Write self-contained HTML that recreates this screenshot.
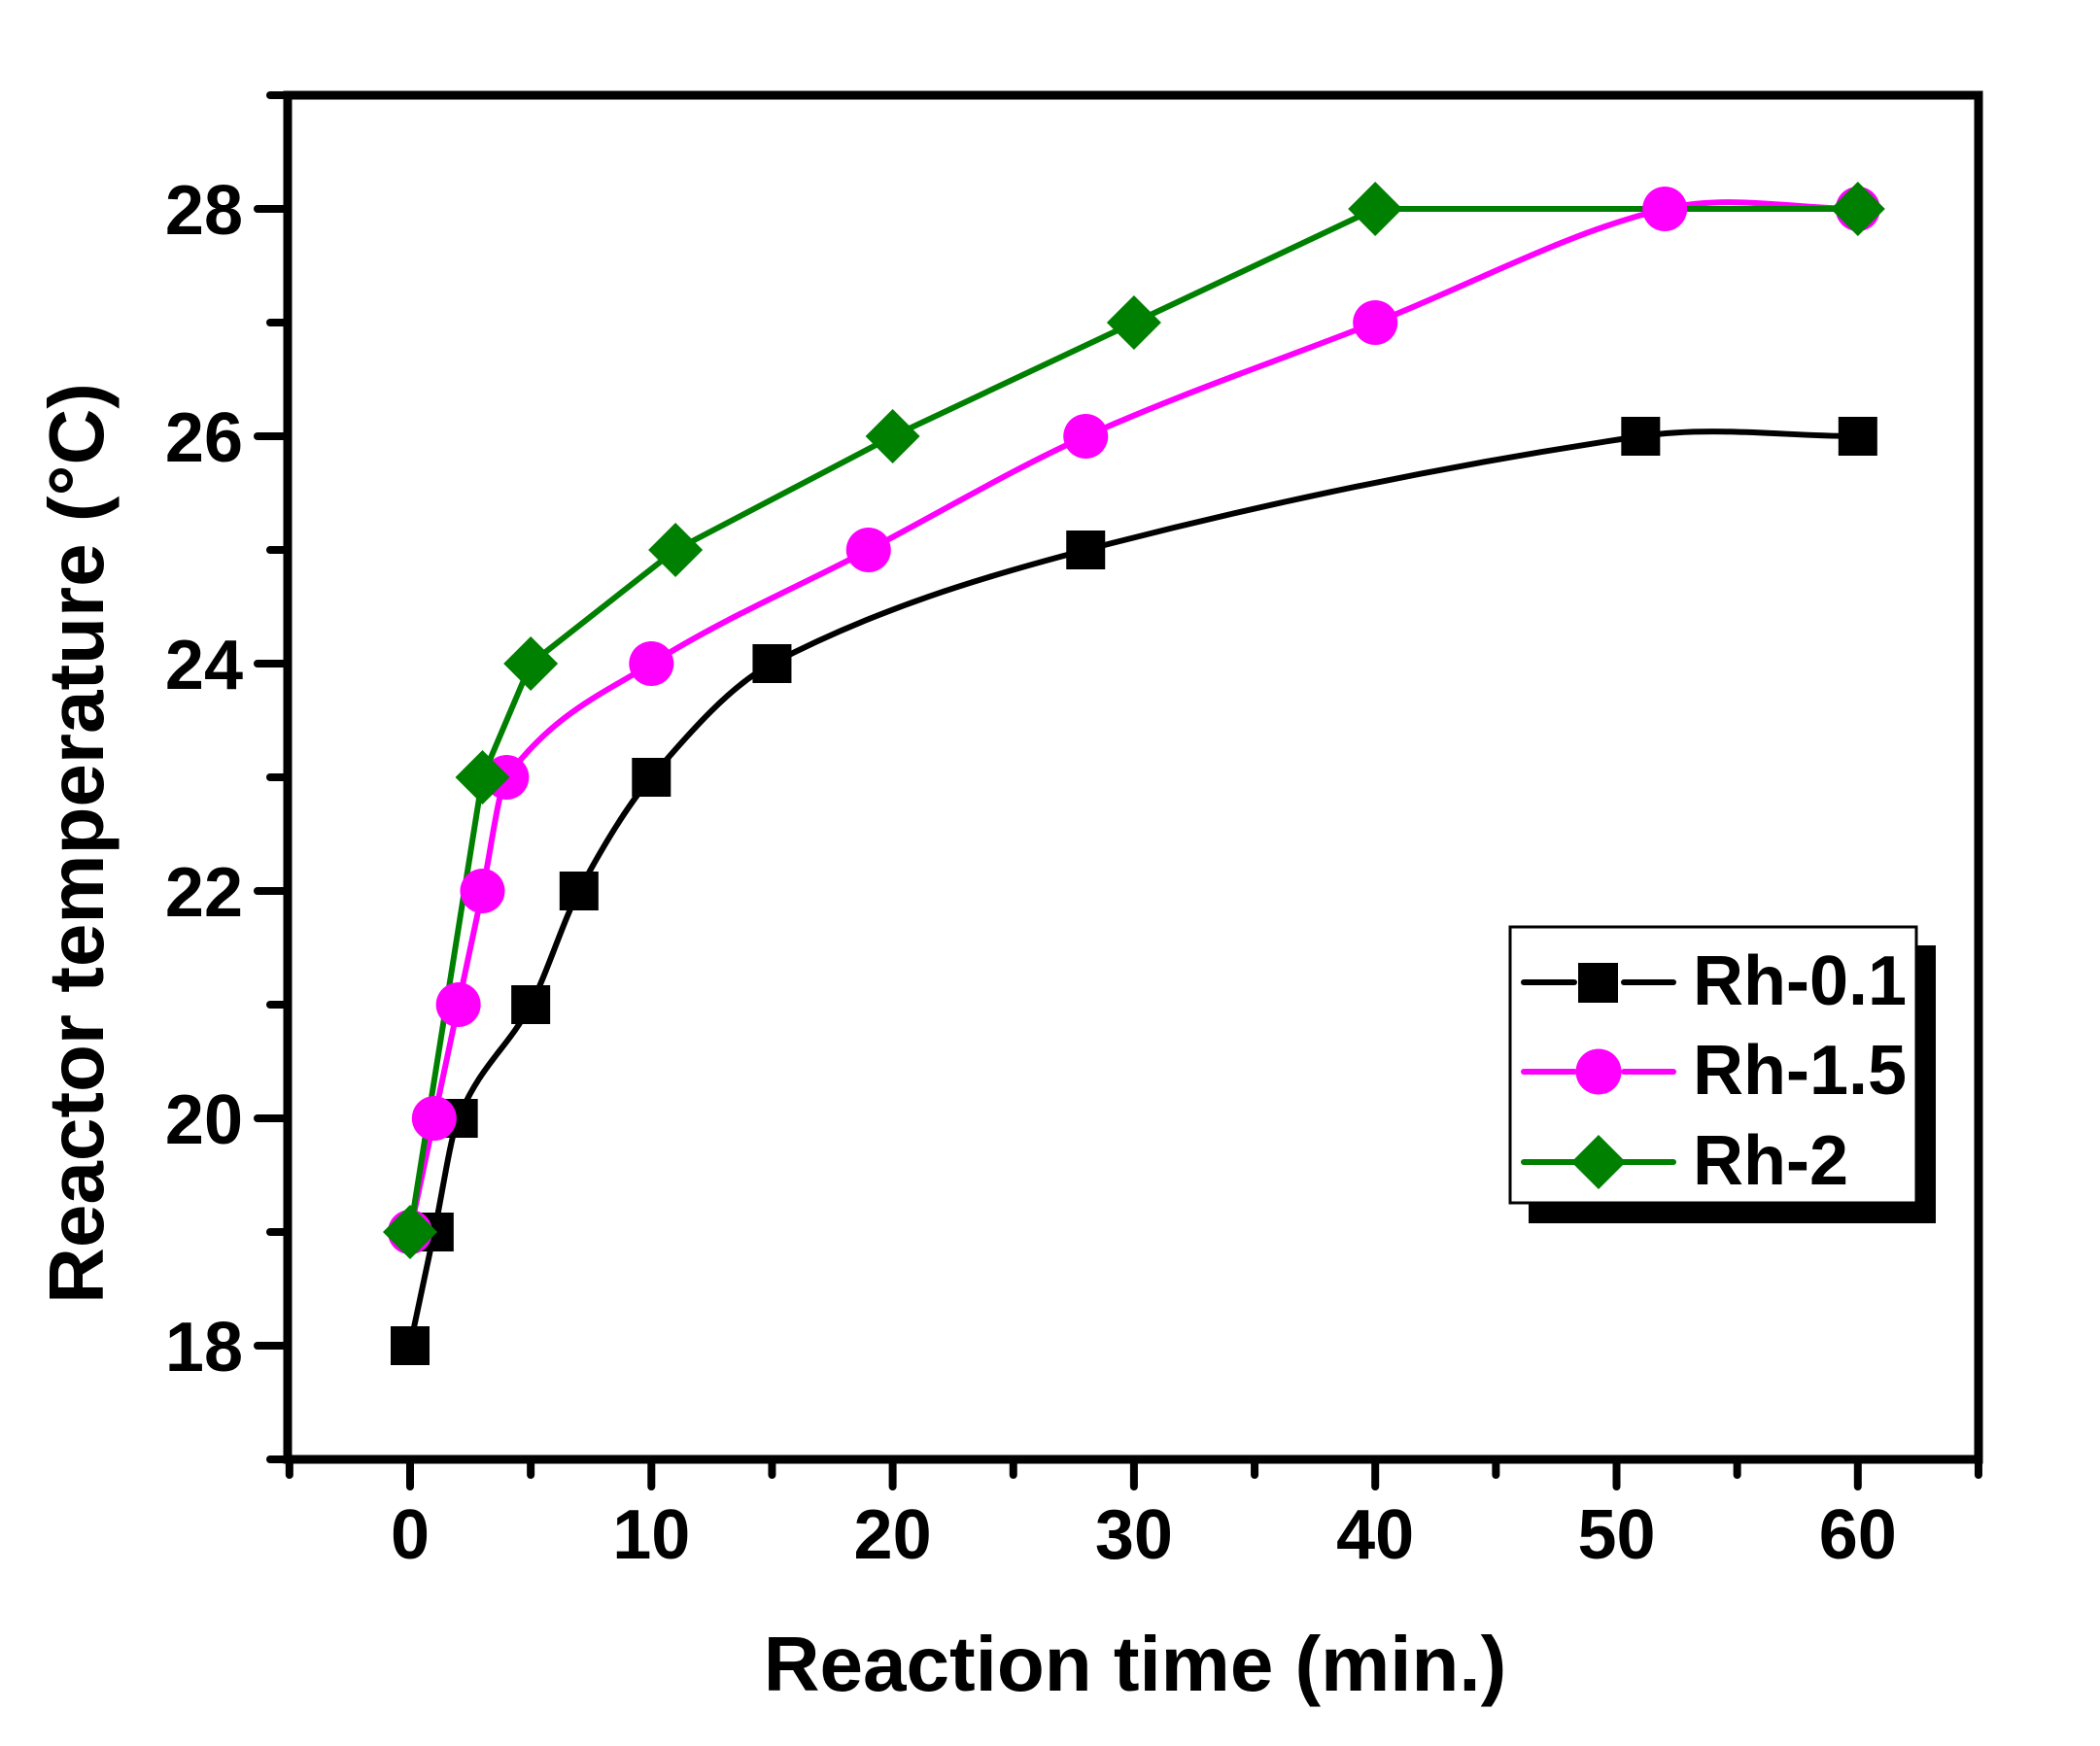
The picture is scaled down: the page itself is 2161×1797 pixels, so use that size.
<!DOCTYPE html>
<html><head><meta charset="utf-8"><style>
html,body{margin:0;padding:0;background:#fff}
svg{display:block}
text{font-family:"Liberation Sans",Arial,sans-serif;font-weight:bold;fill:#000}
</style></head><body>
<svg id="s" width="2161" height="1797" viewBox="0 0 2161 1797" xmlns="http://www.w3.org/2000/svg">
<g id="plot"></g>
<rect x="296" y="98" width="1740" height="1404" fill="none" stroke="#000" stroke-width="9"/>
<g id="ticks" stroke="#000" stroke-width="8" stroke-linecap="round"></g>
<g id="labels" font-size="72"></g>
<text x="1168" y="1740" font-size="80" text-anchor="middle">Reaction time (min.)</text>
<text transform="translate(106,868) rotate(-90)" font-size="80" text-anchor="middle">Reactor temperature (°C)</text>
<rect x="1573" y="973" width="419" height="286" fill="#000"/>
<rect x="1554" y="954" width="418" height="284" fill="#fff" stroke="#000" stroke-width="3"/>
<g stroke-width="6" stroke-linecap="round">
<line x1="1568" y1="1011" x2="1620" y2="1011" stroke="#000"/><line x1="1671" y1="1011" x2="1722" y2="1011" stroke="#000"/>
<rect x="1624" y="991" width="41" height="41" fill="#000" stroke="none"/>
<line x1="1568" y1="1103" x2="1620" y2="1103" stroke="#f0f"/><line x1="1671" y1="1103" x2="1722" y2="1103" stroke="#f0f"/>
<circle cx="1645" cy="1103" r="23.5" fill="#f0f" stroke="none"/>
<line x1="1568" y1="1196" x2="1722" y2="1196" stroke="#008000"/>
<polygon points="1645,1168 1673,1196 1645,1224 1617,1196" fill="#008000" stroke="none"/>
</g>
<text x="1742" y="1034" font-size="72">Rh-0.1</text>
<text x="1742" y="1126" font-size="72">Rh-1.5</text>
<text x="1742" y="1219" font-size="72">Rh-2</text>
</svg>
<script>
const X=v=>422+v*24.83, Y=v=>1385-(v-18)*117;
const NS="http://www.w3.org/2000/svg";
function el(p,t,a){const e=document.createElementNS(NS,t);for(const k in a)e.setAttribute(k,a[k]);p.appendChild(e);return e;}
const tk=document.getElementById('ticks'), lb=document.getElementById('labels'), pl=document.getElementById('plot');
for(let v=-5;v<=65;v+=5){const x=X(v),maj=v%10==0;el(tk,'line',{x1:x,y1:1506,x2:x,y2:maj?1530:1518});
 if(maj&&v>=0&&v<=60){const t=el(lb,'text',{x:x,y:1604,'text-anchor':'middle'});t.textContent=v;}}
for(let v=17;v<=29;v+=1){const y=Y(v),maj=v%2==0;el(tk,'line',{x1:292,y1:y,x2:maj?265:278,y2:y});
 if(maj&&v>=18&&v<=28){const t=el(lb,'text',{x:250,y:y+26,'text-anchor':'end'});t.textContent=v;}}
function sp(pts){const n=pts.length,x=pts.map(p=>p[0]),y=pts.map(p=>p[1]);
 const d=[],m=[];for(let i=0;i<n-1;i++)d.push((y[i+1]-y[i])/(x[i+1]-x[i]));
 m[0]=d[0];m[n-1]=0;for(let i=1;i<n-1;i++){m[i]=(y[i+1]-y[i-1])/(x[i+1]-x[i-1]);}
 for(let i=0;i<n-1;i++){if(d[i]==0)continue;const a=m[i]/d[i],b=m[i+1]/d[i],s=a*a+b*b;if(s>9){const t=3/Math.sqrt(s);m[i]=t*a*d[i];m[i+1]=t*b*d[i];}}
 let p='M'+X(x[0])+','+Y(y[0]);
 for(let i=0;i<n-1;i++){const h=(x[i+1]-x[i])/3;
  p+=' C'+X(x[i]+h)+','+Y(y[i]+m[i]*h)+' '+X(x[i+1]-h)+','+Y(y[i+1]-m[i+1]*h)+' '+X(x[i+1])+','+Y(y[i+1]);}
 return p;}
const a=[[0,18],[1,19],[2,20],[5,21],[7,22],[10,23],[15,24],[28,25],[51,26],[60,26]];
const b=[[0,19],[1,20],[2,21],[3,22],[4,23],[10,24],[19,25],[28,26],[40,27],[52,28],[60,28]];
const c=[[0,19],[3,23],[5,24],[11,25],[20,26],[30,27],[40,28],[60,28]];
el(pl,'path',{d:sp(a),fill:'none',stroke:'#000','stroke-width':6});
el(pl,'path',{d:sp(b),fill:'none',stroke:'#f0f','stroke-width':6});
el(pl,'polyline',{points:c.map(p=>[X(p[0]),Y(p[1])]).join(' '),fill:'none',stroke:'#008000','stroke-width':6});
a.forEach(p=>el(pl,'rect',{x:X(p[0])-20,y:Y(p[1])-20,width:40,height:40,fill:'#000'}));
b.forEach(p=>el(pl,'circle',{cx:X(p[0]),cy:Y(p[1]),r:23,fill:'#f0f'}));
c.forEach(p=>{const x=X(p[0]),y=Y(p[1]);el(pl,'polygon',{points:`${x},${y-28} ${x+28},${y} ${x},${y+28} ${x-28},${y}`,fill:'#008000'});});
</script>
</body></html>
